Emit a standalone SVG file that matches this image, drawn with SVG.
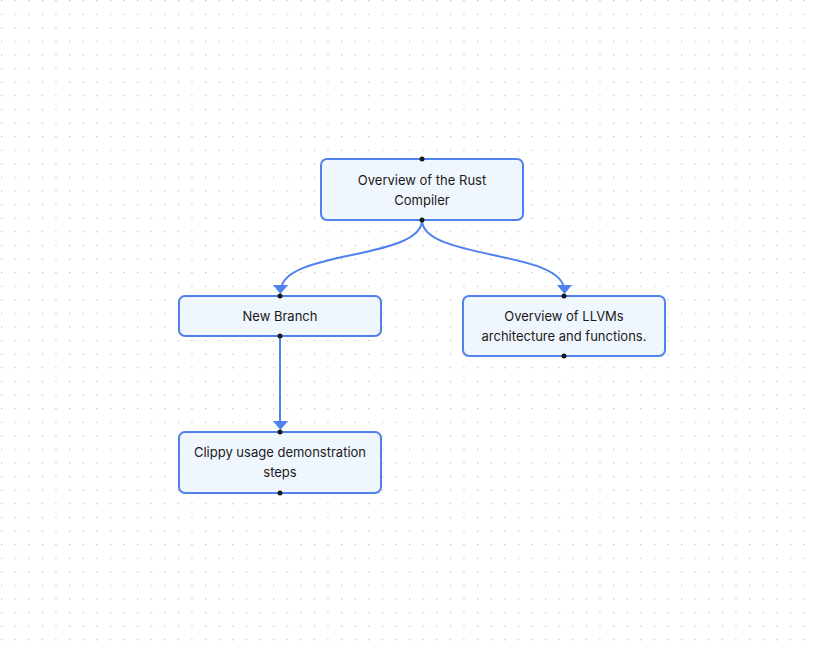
<svg xmlns="http://www.w3.org/2000/svg" width="814" height="648" viewBox="0 0 814 648">
<defs>
<pattern id="grid" width="13.6" height="13.6" patternUnits="userSpaceOnUse" x="1" y="0">
<rect x="0" y="0" width="1.2" height="1.2" fill="#b8b8b8"/>
</pattern>
<marker id="arr" markerWidth="10" markerHeight="10" refX="5" refY="8" orient="auto" markerUnits="userSpaceOnUse" viewBox="0 0 10 10">
<path d="M0,0 L10,0 L5,9 Z" fill="#4f82ee"/>
</marker>
</defs>
<style>
.box{fill:#f0f6fd;stroke:#4f82ee;stroke-width:2}
.t{font-family:Inter,"Liberation Sans",sans-serif;font-size:13px;fill:#1a1a1a;text-anchor:middle}
.c{fill:none;stroke:#4f82ee;stroke-width:2}
.p{fill:#1a1a1a}
</style>
<rect width="814" height="648" fill="#ffffff"/>
<rect width="814" height="648" fill="url(#grid)"/>
<g id="connectors">
<path class="c" d="M422,220 C422,260 282,250 281,290"/>
<path class="c" d="M422,220 C422,260 564,250 564,290"/>
<path class="c" d="M280,336 L280,426"/>
<path d="M273,285 L288,285 L280.5,294 Z" fill="#4f82ee"/>
<path d="M557,285 L572,285 L564.5,294 Z" fill="#4f82ee"/>
<path d="M273,421 L288,421 L280.5,430 Z" fill="#4f82ee"/>
</g>
<g id="n1">
<rect class="box" x="321" y="159" width="202" height="61" rx="6"/>
<text class="t" x="422" y="185">Overview of the Rust</text>
<text class="t" x="422" y="205">Compiler</text>
<circle class="p" cx="422" cy="159" r="2.5"/><circle class="p" cx="422" cy="220" r="2.5"/>
</g>
<g id="n2">
<rect class="box" x="179" y="296" width="202" height="40" rx="6"/>
<text class="t" x="280" y="321">New Branch</text>
<circle class="p" cx="280" cy="296" r="2.5"/><circle class="p" cx="280" cy="336" r="2.5"/>
</g>
<g id="n3">
<rect class="box" x="463" y="296" width="202" height="60" rx="6"/>
<text class="t" x="564" y="321">Overview of LLVMs</text>
<text class="t" x="564" y="341">architecture and functions.</text>
<circle class="p" cx="564" cy="296" r="2.5"/><circle class="p" cx="564" cy="356" r="2.5"/>
</g>
<g id="n4">
<rect class="box" x="179" y="432" width="202" height="61" rx="6"/>
<text class="t" x="280" y="457">Clippy usage demonstration</text>
<text class="t" x="280" y="477">steps</text>
<circle class="p" cx="280" cy="432" r="2.5"/><circle class="p" cx="280" cy="493" r="2.5"/>
</g>
</svg>
